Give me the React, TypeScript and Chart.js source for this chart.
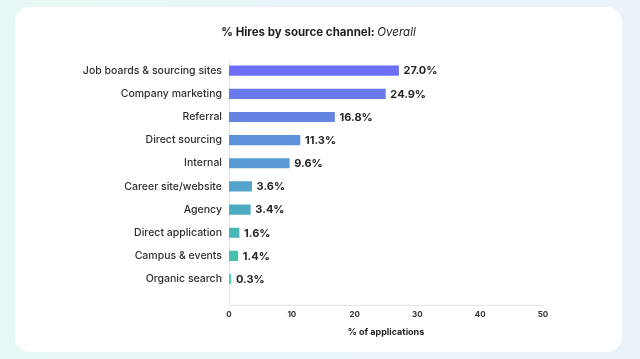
import React, { useEffect, useRef } from "react";
import { Chart, registerables } from "chart.js";

Chart.register(...registerables);

const categories = [
  "Job boards & sourcing sites",
  "Company marketing",
  "Referral",
  "Direct sourcing",
  "Internal",
  "Career site/website",
  "Agency",
  "Direct application",
  "Campus & events",
  "Organic search",
];
const values = [27.0, 24.9, 16.8, 11.3, 9.6, 3.6, 3.4, 1.6, 1.4, 0.3];
const barColors = [
  "#6b6ff5",
  "#6a79ec",
  "#6584e2",
  "#5f92dc",
  "#5a9ad4",
  "#53a3cc",
  "#4eabc4",
  "#49b5b8",
  "#46bfae",
  "#4fd4b8",
];
const xTicks = [0, 10, 20, 30, 40, 50];
const titleBold = "% Hires by source channel: ";
const titleItalic = "Overall";
const xTitle = "% of applications";

const FONT = "Inter, 'Noto Sans', sans-serif";

const decorPlugin = {
  id: "decor",
  beforeDatasetsDraw(chart: any) {
    const { ctx, chartArea } = chart;
    const xs = chart.scales.x;
    ctx.save();
    ctx.strokeStyle = "#e4e4e4";
    ctx.lineWidth = 1;
    const left = Math.round(xs.getPixelForValue(0)) + 0.5;
    const right = xs.getPixelForValue(50);
    const bottom = 305.5;
    ctx.beginPath();
    ctx.moveTo(left, chartArea.top + 2);
    ctx.lineTo(left, bottom);
    ctx.lineTo(right, bottom);
    ctx.stroke();
    ctx.restore();
  },
  afterDatasetsDraw(chart: any) {
    const { ctx } = chart;
    const meta = chart.getDatasetMeta(0);
    ctx.save();
    ctx.font = `700 11px ${FONT}`;
    ctx.fillStyle = "#262626";
    ctx.textBaseline = "middle";
    ctx.textAlign = "left";
    meta.data.forEach((bar: any, i: number) => {
      ctx.fillText(values[i].toFixed(1) + "%", bar.x + 5, bar.y + 0.5);
    });
    // title
    ctx.font = `700 11.5px ${FONT}`;
    const w1 = ctx.measureText(titleBold).width;
    ctx.font = `italic 400 11.5px ${FONT}`;
    const w2 = ctx.measureText(titleItalic).width;
    const cx = 318.5;
    const startX = cx - (w1 + w2) / 2;
    ctx.fillStyle = "#1f1f1f";
    ctx.font = `700 11.5px ${FONT}`;
    ctx.fillText(titleBold, startX, 33);
    ctx.font = `italic 400 11.5px ${FONT}`;
    ctx.fillText(titleItalic, startX + w1, 33);
    ctx.restore();
  },
};

export default function App() {
  const ref = useRef<HTMLCanvasElement>(null);
  useEffect(() => {
    document.body.style.margin = "0";
    const chart = new Chart(ref.current!, {
      type: "bar",
      data: {
        labels: categories,
        datasets: [
          {
            data: values,
            backgroundColor: barColors,
            barThickness: 9.5,
            borderWidth: 0,
          },
        ],
      },
      options: {
        indexAxis: "y",
        responsive: false,
        animation: false,
        layout: { padding: { top: 59.1, right: 97, left: 0, bottom: 0 } },
        plugins: {
          legend: { display: false },
          tooltip: { enabled: false },
          title: { display: false },
        },
        scales: {
          x: {
            min: 0,
            max: 50,
            afterFit: (s: any) => {
              s.height = 68.4;
            },
            afterBuildTicks: (s: any) => {
              s.ticks = xTicks.map((v) => ({ value: v }));
            },
            grid: { display: false, drawTicks: false },
            border: { display: false },
            ticks: {
              padding: 19,
              color: "#333",
              font: { family: FONT, size: 8, weight: "bold" },
            },
            title: {
              display: true,
              text: xTitle,
              color: "#1f1f1f",
              font: { family: FONT, size: 9, weight: "bold" },
              padding: { top: 0, bottom: 21.6 },
            },
          },
          y: {
            afterFit: (s: any) => {
              s.width = 229;
            },
            grid: { display: false, drawTicks: false },
            border: { display: false },
            ticks: {
              padding: 7,
              color: "#2e2e2e",
              font: { family: FONT, size: 10.5, weight: 500 },
            },
          },
        },
      },
      plugins: [decorPlugin],
    } as any);
    return () => chart.destroy();
  }, []);

  return (
    <div
      style={{
        position: "fixed",
        left: 0,
        top: 0,
        width: 640,
        height: 359,
        background: "linear-gradient(90deg, #e6f8f5 0%, #e9f4f8 50%, #eaf2fa 100%)",
      }}
    >
      <div
        style={{
          position: "absolute",
          left: 15,
          top: 7,
          width: 607,
          height: 345,
          borderRadius: 15,
          background: "#ffffff",
        }}
      />
      <canvas
        ref={ref}
        width={640}
        height={359}
        style={{ position: "absolute", left: 0, top: 0 }}
      />
    </div>
  );
}
